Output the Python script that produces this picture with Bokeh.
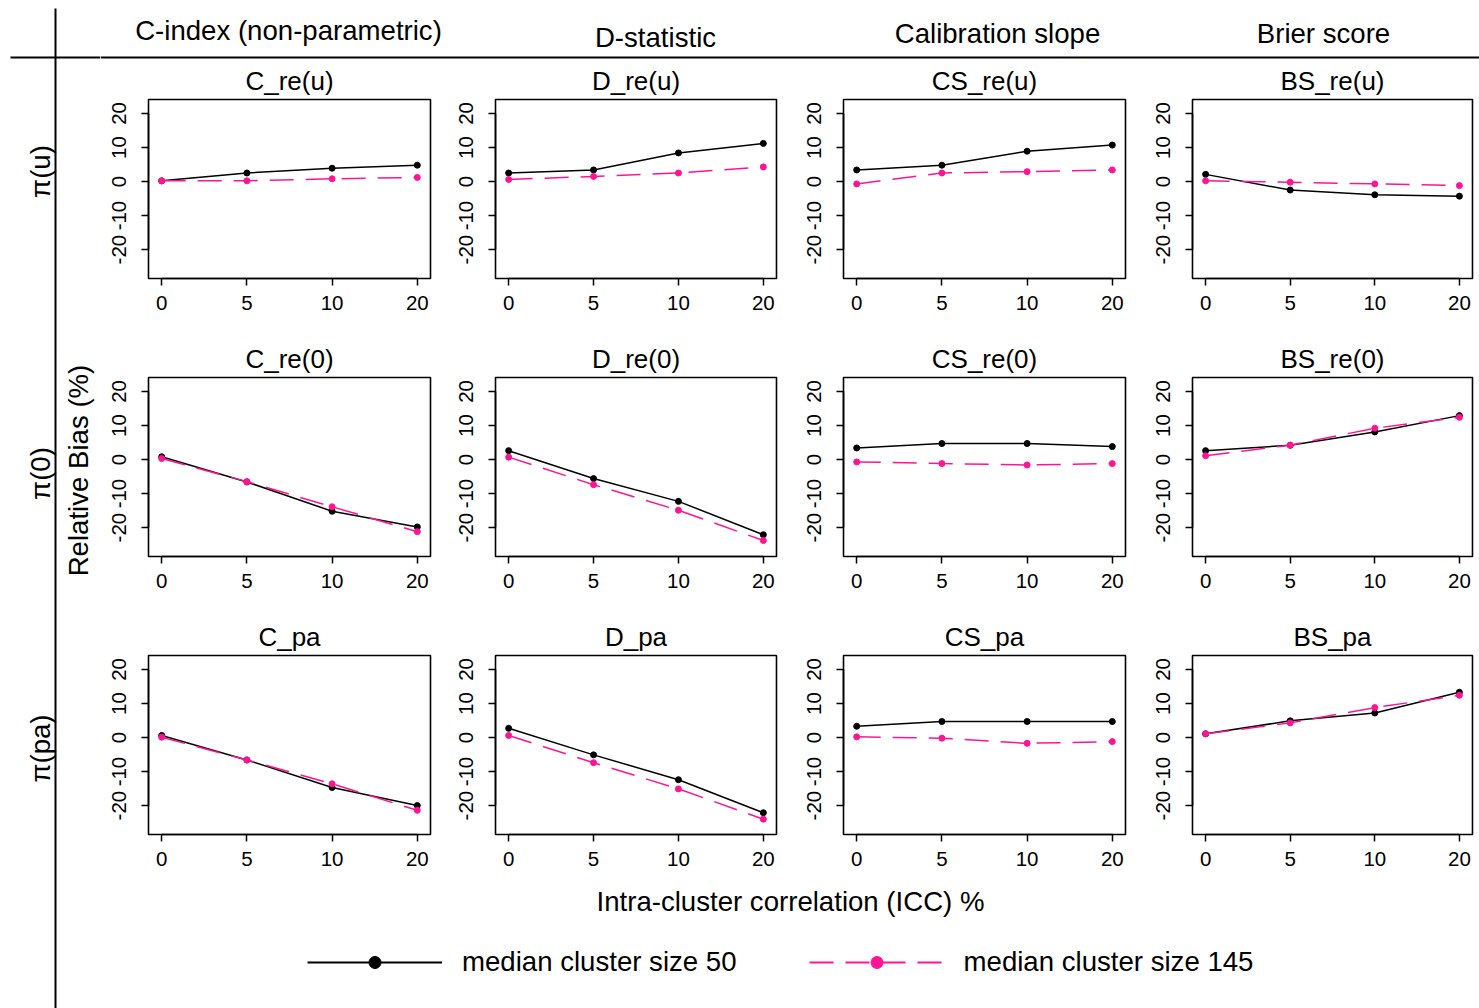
import numpy as np
from bokeh.plotting import figure
from bokeh.layouts import row, column
from bokeh.models import Range1d, FixedTicker, Legend, LegendItem
from bokeh.core.properties import value
from bokeh.embed import file_html
from bokeh.resources import INLINE

# ---------------- data ----------------
icc = [0, 5, 10, 20]
y_ticks = [-20, -10, 0, 10, 20]
metric_headers = ["C-index (non-parametric)", "D-statistic", "Calibration slope", "Brier score"]
row_labels = ["\u03c0(u)", "\u03c0(0)", "\u03c0(pa)"]
panel_titles = [
    ["C_re(u)", "D_re(u)", "CS_re(u)", "BS_re(u)"],
    ["C_re(0)", "D_re(0)", "CS_re(0)", "BS_re(0)"],
    ["C_pa", "D_pa", "CS_pa", "BS_pa"],
]
series_names = ["median cluster size 50", "median cluster size 145"]
y_axis_label = "Relative Bias (%)"
x_axis_label = "Intra-cluster correlation (ICC) %"

# median cluster size 50
c_re_u_50 = [0.2, 2.5, 3.9, 4.8]
d_re_u_50 = [2.5, 3.4, 8.4, 11.2]
cs_re_u_50 = [3.4, 4.8, 8.9, 10.7]
bs_re_u_50 = [2.1, -2.5, -3.9, -4.3]
c_re_0_50 = [0.8, -6.6, -15.2, -19.8]
d_re_0_50 = [2.6, -5.6, -12.3, -22.1]
cs_re_0_50 = [3.4, 4.7, 4.7, 3.8]
bs_re_0_50 = [2.6, 4.2, 8.1, 12.9]
c_pa_50 = [0.6, -6.6, -14.7, -20.0]
d_pa_50 = [2.7, -5.1, -12.4, -22.1]
cs_pa_50 = [3.3, 4.7, 4.7, 4.7]
bs_pa_50 = [1.1, 4.9, 7.2, 13.3]

# median cluster size 145
c_re_u_145 = [0.2, 0.2, 0.8, 1.2]
d_re_u_145 = [0.6, 1.5, 2.5, 4.3]
cs_re_u_145 = [-0.7, 2.5, 2.9, 3.4]
bs_re_u_145 = [0.2, -0.2, -0.7, -1.2]
c_re_0_145 = [0.3, -6.5, -13.9, -21.2]
d_re_0_145 = [0.7, -7.4, -14.9, -23.8]
cs_re_0_145 = [-0.7, -1.2, -1.6, -1.2]
bs_re_0_145 = [1.1, 4.2, 9.2, 12.4]
c_pa_145 = [0.1, -6.6, -13.6, -21.4]
d_pa_145 = [0.6, -7.4, -15.1, -24.0]
cs_pa_145 = [0.2, -0.2, -1.7, -1.2]
bs_pa_145 = [1.1, 4.3, 8.8, 12.4]

series50 = [
    [c_re_u_50, d_re_u_50, cs_re_u_50, bs_re_u_50],
    [c_re_0_50, d_re_0_50, cs_re_0_50, bs_re_0_50],
    [c_pa_50, d_pa_50, cs_pa_50, bs_pa_50],
]
series145 = [
    [c_re_u_145, d_re_u_145, cs_re_u_145, bs_re_u_145],
    [c_re_0_145, d_re_0_145, cs_re_0_145, bs_re_0_145],
    [c_pa_145, d_pa_145, cs_pa_145, bs_pa_145],
]

# ---------------- style / layout ----------------
FONT = "Liberation Sans"
BIG = "27.6px"
BLACK = "black"
PINK = "#FF1493"
DASH = "24 12"
W, H = 1479, 1008
LEFT_W = 100
RIGHT_W = W - LEFT_W
HEADER_H = 60
FOOTER_H = 130

col_frame_w = [282, 281, 282, 280]
col_border_l = [48, 47, 47, 48]
col_border_r = [18, 20, 19, 7]
row_border_b = [60, 60, 44]
FRAME_H = 179
BORDER_T = 39


def blank_fig(w, h, xr, yr):
    f = figure(width=w, height=h, x_range=xr, y_range=yr, min_border=0,
               x_axis_type=None, y_axis_type=None, outline_line_color=None,
               output_backend="svg", toolbar_location=None, tools="")
    f.background_fill_color = None
    f.border_fill_color = None
    return f


def make_panel(r, c):
    xs = list(range(len(icc)))
    p = figure(frame_width=col_frame_w[c], frame_height=FRAME_H,
               min_border_left=col_border_l[c], min_border_right=col_border_r[c],
               min_border_top=BORDER_T, min_border_bottom=row_border_b[r],
               x_range=Range1d(-0.155, len(icc) - 1 + 0.155),
               y_range=Range1d(-28.5, 24.1),
               title=panel_titles[r][c],
               output_backend="svg", toolbar_location=None, tools="")
    p.title.align = "center"
    p.title.text_font_size = "26px"
    p.title.text_font_style = "normal"
    p.title.text_font = FONT
    p.title.text_color = BLACK
    p.title.standoff = 7
    p.grid.visible = False
    p.outline_line_color = BLACK
    p.outline_line_width = 1.6
    p.outline_line_alpha = 1.0

    xa = p.xaxis[0]
    xa.ticker = FixedTicker(ticks=xs)
    xa.major_label_overrides = {i: str(v) for i, v in enumerate(icc)}
    xa.bounds = (xs[0], xs[-1])
    xa.major_label_standoff = 10

    ya = p.yaxis[0]
    ya.ticker = FixedTicker(ticks=y_ticks)
    ya.major_label_overrides = {v: str(v) for v in y_ticks}
    ya.bounds = (y_ticks[0], y_ticks[-1])
    ya.major_label_orientation = "vertical"
    ya.major_label_standoff = 15

    for ax in (xa, ya):
        ax.major_tick_out = 7
        ax.major_tick_in = 0
        ax.minor_tick_line_color = None
        ax.axis_line_width = 1.6
        ax.axis_line_color = BLACK
        ax.major_tick_line_width = 1.5
        ax.major_tick_line_color = BLACK
        ax.major_label_text_font_size = "20.5px"
        ax.major_label_text_font = FONT
        ax.major_label_text_color = BLACK

    p.line(xs, series50[r][c], line_color=BLACK, line_width=1.5)
    p.scatter(xs, series50[r][c], size=6, color=BLACK)
    p.line(xs, series145[r][c], line_color=PINK, line_width=1.5, line_dash=DASH)
    p.scatter(xs, series145[r][c], size=6, color=PINK)
    return p


# left strip (global pixel coordinates)
left = blank_fig(LEFT_W, H, Range1d(0, LEFT_W), Range1d(H, 0))
left.segment(x0=[55, 10], y0=[8, 57], x1=[55, LEFT_W], y1=[H, 57], line_color=BLACK, line_width=2)
left.text(x=[40, 40, 40], y=[171, 473, 748], text=row_labels, angle=np.pi / 2,
          text_align="center", text_baseline="middle", text_font=value(FONT),
          text_font_size=BIG, text_color=BLACK)
left.text(x=[78], y=[470], text=[y_axis_label], angle=np.pi / 2,
          text_align="center", text_baseline="middle", text_font=value(FONT),
          text_font_size=BIG, text_color=BLACK)

# header
header = blank_fig(RIGHT_W, HEADER_H, Range1d(LEFT_W, W), Range1d(HEADER_H, 0))
header.segment(x0=[LEFT_W], y0=[57], x1=[W], y1=[57], line_color=BLACK, line_width=2)
header.text(x=[288, 655, 997, 1323], y=[30, 37, 33, 33], text=metric_headers,
            text_align="center", text_baseline="middle", text_font=value(FONT),
            text_font_size=BIG, text_color=BLACK)

# panels
rows = []
for r in range(3):
    rows.append(row(*[make_panel(r, c) for c in range(4)]))

# footer with axis label and legend
foot_top = H - FOOTER_H
footer = blank_fig(RIGHT_W, FOOTER_H, Range1d(LEFT_W, W), Range1d(H, foot_top))
footer.text(x=[790], y=[901], text=[x_axis_label], text_align="center",
            text_baseline="middle", text_font=value(FONT), text_font_size=BIG,
            text_color=BLACK)
l1 = footer.line([np.nan], [np.nan], line_color=BLACK, line_width=2)
s1 = footer.scatter([np.nan], [np.nan], size=12, color=BLACK, marker="circle")
l2 = footer.line([np.nan], [np.nan], line_color=PINK, line_width=2, line_dash=DASH)
s2 = footer.scatter([np.nan], [np.nan], size=12, color=PINK, marker="circle")
legend = Legend(items=[LegendItem(label=series_names[0], renderers=[l1, s1]),
                       LegendItem(label=series_names[1], renderers=[l2, s2])],
                orientation="horizontal", location=(207, 30), padding=0, margin=0,
                spacing=72, glyph_width=135, glyph_height=30, label_standoff=20,
                label_height=30, label_text_font=FONT, label_text_font_size=BIG,
                label_text_color=BLACK, border_line_color=None,
                background_fill_alpha=0)
footer.add_layout(legend, "center")

layout = row(left, column(header, *rows, footer))

open("out.html", "w").write(file_html(layout, INLINE))
